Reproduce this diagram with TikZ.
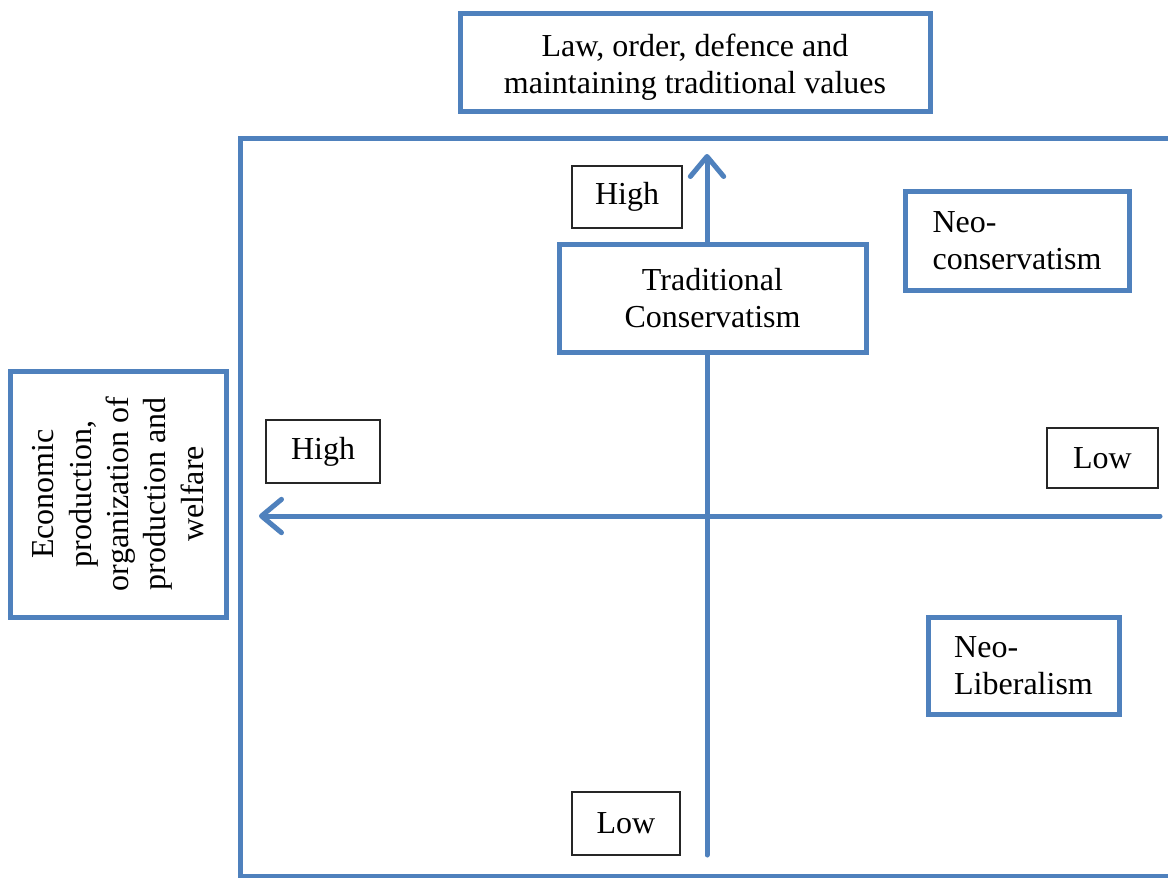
\documentclass[tikz,border=0pt]{standalone}
\usepackage{fontspec}
\setmainfont{Liberation Serif}
\usetikzlibrary{arrows.meta}
\definecolor{obl}{HTML}{4F81BD}
\begin{document}
\begin{tikzpicture}[x=0.75pt,y=-0.75pt,
  bluebox/.style={draw=obl, line width=3.75pt, fill=white, align=center, inner sep=0pt,
     font=\fontsize{24}{28}\selectfont},
  smallbox/.style={draw=black!85, line width=1.1pt, fill=white, inner sep=0pt,
     font=\fontsize{24}{28}\selectfont},
  axis/.style={draw=obl, line width=3.75pt, line cap=round,
     -{Straight Barb[length=15pt,width=25pt,line width=3.75pt, round]}}]
\useasboundingbox (0,0) rectangle (1168,878);
% main frame
\draw[draw=obl, line width=3.75pt, fill=white] (240,138) rectangle (1180,876);
% axes
\coordinate (vs) at (707,855);
\coordinate (ve) at (707,154);
\coordinate (hs) at (1160,516);
\coordinate (he) at (259,516);
\draw[axis] (vs) -- (ve);
\draw[axis] (hs) -- (he);
% boxes
\node[bluebox, minimum width=352.5pt, minimum height=73.5pt] (top) at (695,62)
  {\rule{0pt}{24.5pt}Law, order, defence and\\maintaining traditional values};
\node[bluebox, minimum width=230.25pt, minimum height=81pt] (trad) at (712.5,298)
  {Traditional\\Conservatism};
\node[bluebox, minimum width=168pt, minimum height=74.25pt, align=left] (neocons) at (1017,240.5)
  {Neo-\\conservatism};
\node[bluebox, minimum width=143.25pt, minimum height=72.75pt, align=left] (neolib) at (1023.5,665.5)
  {Neo-\\Liberalism};
\node[bluebox, rotate=90, minimum width=184.5pt, minimum height=162pt] (econ) at (118,494)
  {Economic\\production,\\organization of\\production and\\welfare};
\node[smallbox, minimum width=82.5pt, minimum height=46.5pt] (hightop) at (627,197) {High};
\node[smallbox, minimum width=85.5pt, minimum height=47.25pt] (highleft) at (323,451.5) {High};
\node[smallbox, minimum width=83.25pt, minimum height=45pt] (lowright) at (1102.5,458) {Low};
\node[smallbox, minimum width=81pt, minimum height=47.25pt] (lowbot) at (626,823.5) {Low};
\end{tikzpicture}
\end{document}
